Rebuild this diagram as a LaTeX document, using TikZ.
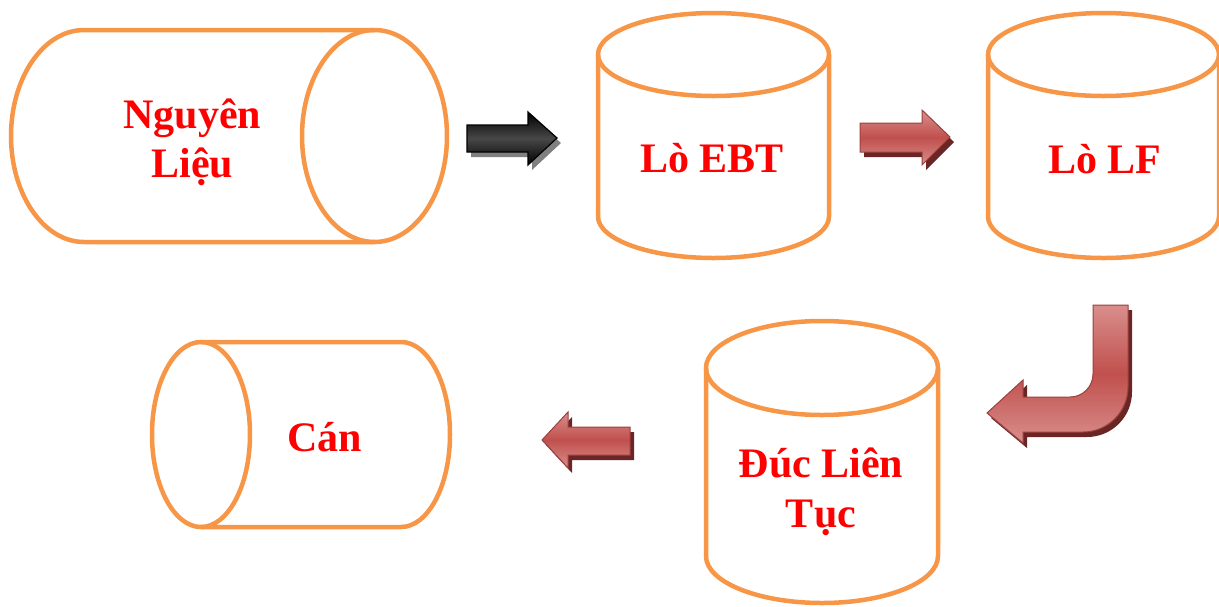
\documentclass[tikz,border=0pt]{standalone}
\usepackage{fontspec}
\setmainfont{Liberation Serif}
\definecolor{rim}{HTML}{F79646}
\definecolor{labelred}{HTML}{FF0000}
\definecolor{arrowred}{HTML}{C0504D}
\definecolor{arrowredlight}{HTML}{D98E8C}
\definecolor{arrowredshadow}{HTML}{6A2624}
\tikzset{
  rimline/.style={draw=rim, line width=4.5pt, line join=round},
  stagelabel/.style={text=labelred, font=\fontsize{42}{49.5}\selectfont\bfseries,
    align=center, inner sep=0pt, anchor=base},
  redarrow/.style={draw=arrowred!80!black, line width=1pt, line join=miter,
    top color=arrowredlight, bottom color=arrowredlight, middle color=arrowred},
  redshadow/.style={fill=arrowredshadow},
  blackarrow/.style={draw=black, line width=1.2pt,
    top color=black, bottom color=black, middle color=black!72},
  blackshadow/.style={fill=black!50},
}
\begin{document}
\begin{tikzpicture}[x=1pt,y=-1pt]
\useasboundingbox (0,0) rectangle (1219,606);

% Nguyen Lieu: horizontal cylinder, open face on the right
\draw[rimline] (374.5,30) -- (84,30)
  arc[start angle=90, end angle=270, x radius=73pt, y radius=106pt]
  -- (374.5,242);
\draw[rimline] (374.5,136) ellipse[x radius=72.5pt, y radius=106pt];
\node[stagelabel] (raw) at (192.5,177.5) {Nguyên\\Liệu};

% Lo EBT: upright cylinder
\draw[rimline] (598,54.5) -- (598,216.5)
  arc[start angle=180, end angle=360, x radius=115.5pt, y radius=41.5pt]
  -- (829,54.5);
\draw[rimline] (713.5,54.5) ellipse[x radius=115.5pt, y radius=41.5pt];
\node[stagelabel] (ebt) at (712,172.5) {Lò EBT};

% Lo LF: upright cylinder
\draw[rimline] (988,54.5) -- (988,216.5)
  arc[start angle=180, end angle=360, x radius=115.5pt, y radius=41.5pt]
  -- (1219,54.5);
\draw[rimline] (1103.5,54.5) ellipse[x radius=115.5pt, y radius=41.5pt];
\node[stagelabel] (lf) at (1105,173) {Lò LF};

% Duc Lien Tuc: upright cylinder
\draw[rimline] (706,368) -- (706,556)
  arc[start angle=180, end angle=360, x radius=116pt, y radius=47pt]
  -- (938,368);
\draw[rimline] (822,368) ellipse[x radius=116pt, y radius=47pt];
\node[stagelabel] (cast) at (821,527) {Đúc Liên\\Tục};

% Can: horizontal cylinder, open face on the left
\draw[rimline] (201,342) -- (401,342)
  arc[start angle=90, end angle=-90, x radius=49pt, y radius=92.5pt]
  -- (201,527);
\draw[rimline] (201,434.5) ellipse[x radius=49pt, y radius=92.5pt];
\node[stagelabel] (roll) at (325,451) {Cán};

% block arrow: raw material -> EBT
\fill[blackshadow, shift={(4,5)}] (467,125) -- (528,125) -- (528,112) -- (557,138)
  -- (528,165) -- (528,152) -- (467,152) -- cycle;
\path[blackarrow] (467,125) -- (528,125) -- (528,112) -- (557,138)
  -- (528,165) -- (528,152) -- (467,152) -- cycle;

% block arrow: EBT -> LF
\fill[redshadow, shift={(4,5)}] (860,123) -- (922,123) -- (922,110) -- (950,137)
  -- (922,165) -- (922,152) -- (860,152) -- cycle;
\path[redarrow] (860,123) -- (922,123) -- (922,110) -- (950,137)
  -- (922,165) -- (922,152) -- (860,152) -- cycle;

% bent block arrow: LF -> continuous casting
\fill[redshadow, shift={(4,5)}] (1093,305) -- (1128,305) -- (1128,387)
  arc[start angle=0, end angle=-90, radius=45pt]
  -- (1023,432) -- (1023,443) -- (987,413) -- (1023,380) -- (1023,397) -- (1070,397)
  arc[start angle=-90, end angle=0, radius=23pt] -- cycle;
\path[redarrow] (1093,305) -- (1128,305) -- (1128,387)
  arc[start angle=0, end angle=-90, radius=45pt]
  -- (1023,432) -- (1023,443) -- (987,413) -- (1023,380) -- (1023,397) -- (1070,397)
  arc[start angle=-90, end angle=0, radius=23pt] -- cycle;

% block arrow: continuous casting -> rolling
\fill[redshadow, shift={(4,5)}] (630,427) -- (568,427) -- (568,412) -- (542,440)
  -- (568,468) -- (568,455) -- (630,455) -- cycle;
\path[redarrow] (630,427) -- (568,427) -- (568,412) -- (542,440)
  -- (568,468) -- (568,455) -- (630,455) -- cycle;
\end{tikzpicture}
\end{document}
